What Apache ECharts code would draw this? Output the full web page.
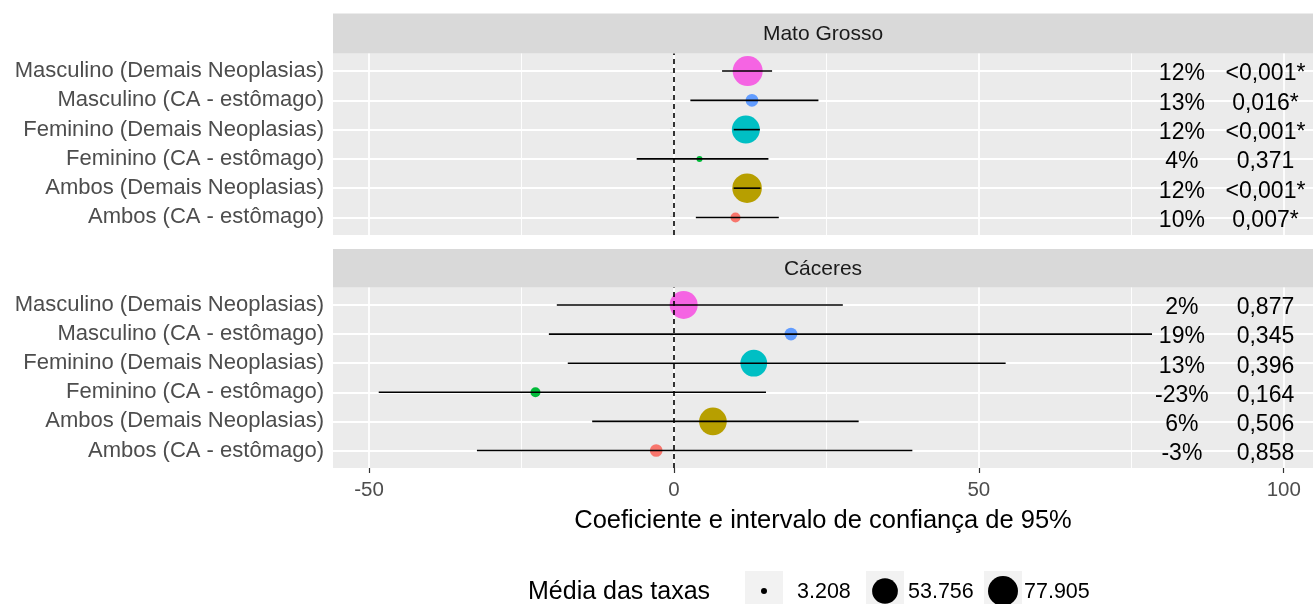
<!DOCTYPE html>
<html>
<head>
<meta charset="utf-8">
<script src="https://cdn.jsdelivr.net/npm/echarts@6/dist/echarts.min.js"></script>
<style>
html, body { margin: 0; padding: 0; background: #fff; }
#main { width: 1313px; height: 604px; }
</style>
</head>
<body>
<div id="main"></div>
<script>
// categorias (de baixo para cima, y = 1..6)
var categorias = ['Ambos (CA - estômago)', 'Ambos (Demais Neoplasias)', 'Feminino (CA - estômago)',
    'Feminino (Demais Neoplasias)', 'Masculino (CA - estômago)', 'Masculino (Demais Neoplasias)'];
var cores = ['#F8766D', '#B79F00', '#00BA38', '#00BFC4', '#619CFF', '#F564E3'];
var paineis = ['Mato Grosso', 'Cáceres'];

// Mato Grosso
var mtCoef = [10.1, 12.0, 4.2, 11.8, 12.8, 12.1];
var mtInf = [3.6, 9.8, -6.1, 9.8, 2.7, 7.9];
var mtSup = [17.2, 14.2, 15.5, 14.1, 23.7, 16.1];
var mtTaxa = [5.3, 75.0, 3.208, 66.0, 9.0, 77.905];
var mtPerc = ['10%', '12%', '4%', '12%', '13%', '12%'];
var mtP = ['0,007*', '<0,001*', '0,371', '<0,001*', '0,016*', '<0,001*'];

// Cáceres
var caCoef = [-2.9, 6.4, -22.7, 13.1, 19.2, 1.6];
var caInf = [-32.3, -13.4, -48.4, -17.4, -20.5, -19.2];
var caSup = [39.1, 30.3, 15.1, 54.4, 78.4, 27.7];
var caTaxa = [9.0, 64.0, 5.3, 58.8, 9.0, 66.0];
var caPerc = ['-3%', '6%', '-23%', '13%', '19%', '2%'];
var caP = ['0,858', '0,506', '0,164', '0,396', '0,345', '0,877'];

// eixo x e legenda
var ticksX = [-50, 0, 50, 100];
var gradeMenorX = [-25, 25, 75];
var legendaTaxas = [3.208, 53.756, 77.905];
var xPerc = 83.3, xP = 97.0;

var fonte = '"Liberation Sans", Arial, sans-serif';
var taxaMin = 3.208, taxaMax = 77.905;
function tamanho(v) {
    return 6 + 24 * Math.sqrt((v - taxaMin) / (taxaMax - taxaMin));
}

var dados = [
    { coef: mtCoef, inf: mtInf, sup: mtSup, taxa: mtTaxa, perc: mtPerc, p: mtP },
    { coef: caCoef, inf: caInf, sup: caSup, taxa: caTaxa, perc: caPerc, p: caP }
];

var grids = [
    { left: 333, right: 0, top: 53.5, height: 181.5 },
    { left: 333, right: 0, top: 287.5, height: 180.5 }
];

var myChart = echarts.init(document.getElementById('main'));

var xAxes = [], yAxes = [], series = [];
grids.forEach(function (g, i) {
    g.show = true;
    g.backgroundColor = '#EBEBEB';
    g.borderWidth = 0;
    g.containLabel = false;
    var ultimo = i === grids.length - 1;
    xAxes.push({
        type: 'value', gridIndex: i, min: -55.9, max: 104.8,
        axisLine: { show: false },
        splitLine: { show: false },
        axisTick: { show: ultimo, customValues: ticksX, length: 5, lineStyle: { color: '#333333', width: 1.2 } },
        axisLabel: { show: ultimo, customValues: ticksX, margin: 12, color: '#4D4D4D', fontSize: 20.5, fontFamily: fonte },
        name: ultimo ? 'Coeficiente e intervalo de confiança de 95%' : '',
        nameLocation: 'middle', nameGap: 40,
        nameTextStyle: { color: '#000', fontSize: 25.5, fontFamily: fonte }
    });
    yAxes.push({
        type: 'value', gridIndex: i, min: 0.4, max: 6.6,
        axisLine: { show: false },
        splitLine: { show: false },
        axisTick: { show: true, customValues: [1, 2, 3, 4, 5, 6], length: 4, lineStyle: { color: '#333333', width: 1.2 } },
        axisLabel: {
            customValues: [1, 2, 3, 4, 5, 6], margin: 9, color: '#4D4D4D', fontSize: 22, fontFamily: fonte,
            formatter: function (v) { return categorias[Math.round(v) - 1]; }
        }
    });

    // linhas de grade (abaixo de tudo)
    var linhas = [];
    ticksX.forEach(function (v) { linhas.push({ xAxis: v, lineStyle: { width: 1.8 } }); });
    gradeMenorX.forEach(function (v) { linhas.push({ xAxis: v, lineStyle: { width: 0.9 } }); });
    categorias.forEach(function (c, k) { linhas.push({ yAxis: k + 1, lineStyle: { width: 1.8 } }); });
    series.push({
        type: 'scatter', xAxisIndex: i, yAxisIndex: i, data: [], silent: true, z: 1,
        markLine: {
            z: 1, silent: true, animation: false, symbol: ['none', 'none'], label: { show: false },
            lineStyle: { color: '#FFFFFF', type: 'solid' },
            emphasis: { disabled: true },
            data: linhas
        }
    });

    var d = dados[i];
    // pontos
    series.push({
        type: 'scatter', xAxisIndex: i, yAxisIndex: i, z: 2, silent: true,
        data: d.coef.map(function (c, k) {
            return {
                value: [c, k + 1],
                symbolSize: tamanho(d.taxa[k]),
                itemStyle: { color: cores[k], opacity: 1 }
            };
        })
    });

    // intervalos de confiança
    series.push({
        type: 'custom', xAxisIndex: i, yAxisIndex: i, z: 3, silent: true,
        data: d.inf.map(function (lo, k) { return [lo, d.sup[k], k + 1]; }),
        encode: { x: [0, 1], y: 2 },
        renderItem: function (params, api) {
            var a = api.coord([api.value(0), api.value(2)]);
            var b = api.coord([api.value(1), api.value(2)]);
            return {
                type: 'line',
                shape: { x1: a[0], y1: a[1], x2: b[0], y2: b[1] },
                style: { stroke: '#000', lineWidth: 1.6 }
            };
        }
    });

    // linha do zero
    series.push({
        type: 'scatter', xAxisIndex: i, yAxisIndex: i, data: [], silent: true, z: 4,
        markLine: {
            z: 4, silent: true, animation: false, symbol: ['none', 'none'], label: { show: false },
            lineStyle: { color: '#000', type: [5, 4], width: 1.6 },
            emphasis: { disabled: true },
            data: [{ xAxis: 0 }]
        }
    });

    // textos
    var textos = [];
    d.perc.forEach(function (t, k) {
        textos.push([xPerc, k + 1, t]);
        textos.push([xP, k + 1, d.p[k]]);
    });
    series.push({
        type: 'custom', xAxisIndex: i, yAxisIndex: i, z: 5, silent: true,
        data: textos,
        encode: { x: 0, y: 1 },
        renderItem: function (params, api) {
            var p = api.coord([api.value(0), api.value(1)]);
            return {
                type: 'text',
                style: {
                    text: textos[params.dataIndex][2], x: p[0], y: p[1] + 3,
                    align: 'center', verticalAlign: 'middle',
                    fill: '#000', font: '23px ' + fonte
                }
            };
        }
    });
});

// faixas dos painéis e legenda
var graficos = [];
var faixas = [{ top: 13.5, h: 40 }, { top: 249, h: 38.5 }];
paineis.forEach(function (nome, i) {
    graficos.push({
        type: 'rect', left: 333, top: faixas[i].top, silent: true,
        shape: { width: 980, height: faixas[i].h }, style: { fill: '#D9D9D9' }
    });
    graficos.push({
        type: 'text', x: 823, y: faixas[i].top + faixas[i].h / 2 + 1, silent: true,
        style: { text: nome, align: 'center', verticalAlign: 'middle', fill: '#1A1A1A', font: '21px ' + fonte }
    });
});
graficos.push({
    type: 'text', x: 528, y: 592, silent: true,
    style: { text: 'Média das taxas', align: 'left', verticalAlign: 'middle', fill: '#000', font: '25px ' + fonte }
});
var centrosChave = [764, 885, 1003];
var textoChave = [797, 908, 1024];
legendaTaxas.forEach(function (v, k) {
    graficos.push({
        type: 'rect', x: centrosChave[k] - 19, y: 571, silent: true,
        shape: { width: 38, height: 40 }, style: { fill: '#F2F2F2' }
    });
    graficos.push({
        type: 'circle', x: centrosChave[k], y: 591, silent: true,
        shape: { cx: 0, cy: 0, r: tamanho(v) / 2 }, style: { fill: '#000' }
    });
    graficos.push({
        type: 'text', x: textoChave[k], y: 592, silent: true,
        style: { text: v.toFixed(3), align: 'left', verticalAlign: 'middle', fill: '#000', font: '21.5px ' + fonte }
    });
});

var option = {
    animation: false,
    backgroundColor: '#FFFFFF',
    grid: grids,
    xAxis: xAxes,
    yAxis: yAxes,
    series: series,
    graphic: graficos
};

myChart.setOption(option);
</script>
</body>
</html>
